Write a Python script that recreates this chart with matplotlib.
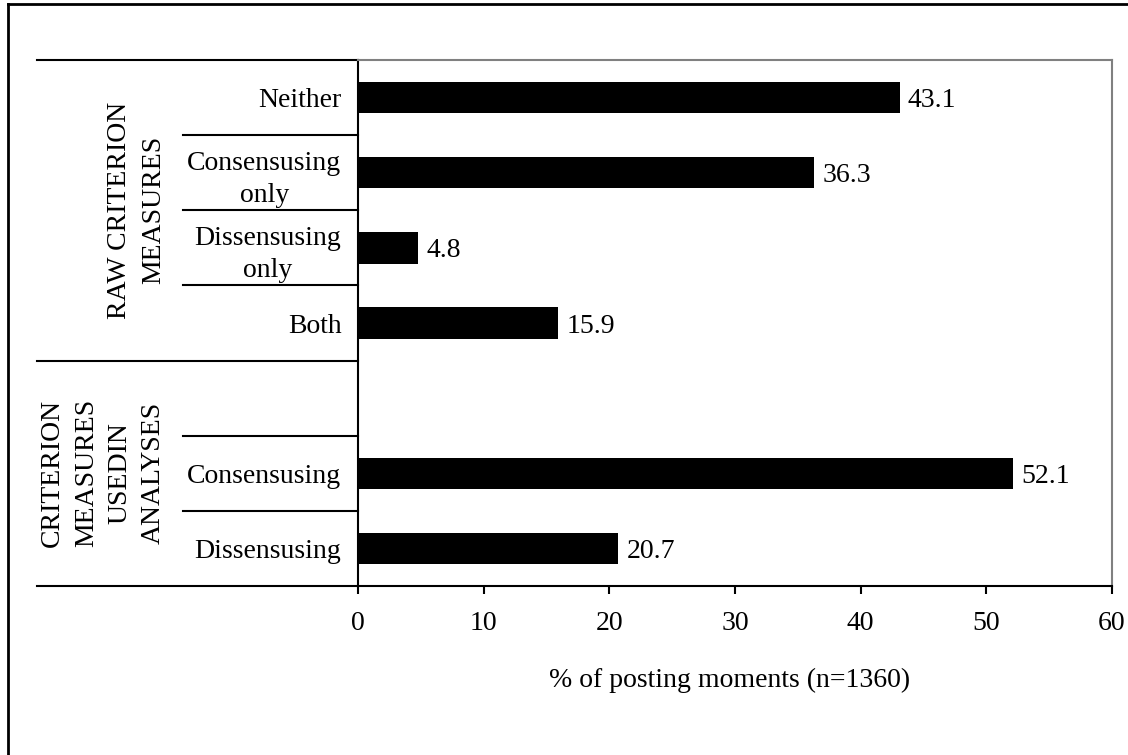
import matplotlib
matplotlib.use("Agg")
import matplotlib.pyplot as plt
from matplotlib.lines import Line2D

plt.rcParams['font.family'] = ['Liberation Serif', 'DejaVu Serif']
plt.rcParams['font.size'] = 20

# data
categories = ["Neither", "Consensusing\nonly", "Dissensusing\nonly", "Both",
              "", "Consensusing", "Dissensusing"]
values = [43.1, 36.3, 4.8, 15.9, None, 52.1, 20.7]
groups = ["RAW CRITERION\nMEASURES", "CRITERION\nMEASURES\nUSEDIN\nANALYSES"]
group_centers = [1.5, 5.0]
group_bounds = [3.5]
inner_bounds = [0.5, 1.5, 2.5, 4.5, 5.5]
xticks = [0, 10, 20, 30, 40, 50, 60]

W, H = 1128, 755
fig = plt.figure(figsize=(W / 100, H / 100), dpi=100)
ax = fig.add_axes([358 / W, 1 - 586 / H, (1112 - 358) / W, (586 - 60) / H])

ypos = list(range(len(categories)))
for y, v in zip(ypos, values):
    if v is None:
        continue
    ax.barh(y, v, height=0.42, color='black')
    ax.annotate(f"{v:.1f}", (v, y), xytext=(6, 0), textcoords='offset points',
                va='center_baseline', ha='left')

ax.set_xlim(0, 60)
ax.set_ylim(len(categories) - 0.5, -0.5)
ax.set_xticks(xticks)
ax.set_yticks(ypos)
ax.set_yticklabels(categories)
for lbl in ax.get_yticklabels():
    lbl.set_multialignment('center')
    lbl.set_linespacing(1.4)
ax.tick_params(axis='y', length=0, pad=12)
ax.tick_params(axis='x', length=6, width=1.5, direction='out', pad=12)

for side in ['top', 'right']:
    ax.spines[side].set_color('#808080')
    ax.spines[side].set_linewidth(1.5)
for side in ['left', 'bottom']:
    ax.spines[side].set_color('black')
    ax.spines[side].set_linewidth(1.5)

# separator lines in the label area
xl_outer = (37 - 358) / (1112 - 358)
xl_inner = (183 - 358) / (1112 - 358)
ax.plot([xl_outer, 0], [1, 1], transform=ax.transAxes, color='black', lw=1.5, clip_on=False)
ax.plot([xl_outer, 0], [0, 0], transform=ax.transAxes, color='black', lw=1.5, clip_on=False)
tr = ax.get_yaxis_transform()
for b in group_bounds:
    ax.plot([xl_outer, 0], [b, b], transform=tr, color='black', lw=1.5, clip_on=False)
for b in inner_bounds:
    ax.plot([xl_inner, 0], [b, b], transform=tr, color='black', lw=1.5, clip_on=False)

xg = (166 - 358) / (1112 - 358)
for g, c in zip(groups, group_centers):
    ax.text(xg, c, g, transform=tr, rotation=90, ha='right', va='center',
            multialignment='center', linespacing=1.45)

fig.text(730 / W, 1 - 680 / H, "% of posting moments (n=1360)", ha='center', va='center')

# outer frame
fig.add_artist(Line2D([8 / W, 8 / W], [0, 1 - 4 / H], color='black', lw=2, transform=fig.transFigure))
fig.add_artist(Line2D([8 / W, 1], [1 - 4 / H, 1 - 4 / H], color='black', lw=2, transform=fig.transFigure))

fig.savefig("out.png", dpi=100)
